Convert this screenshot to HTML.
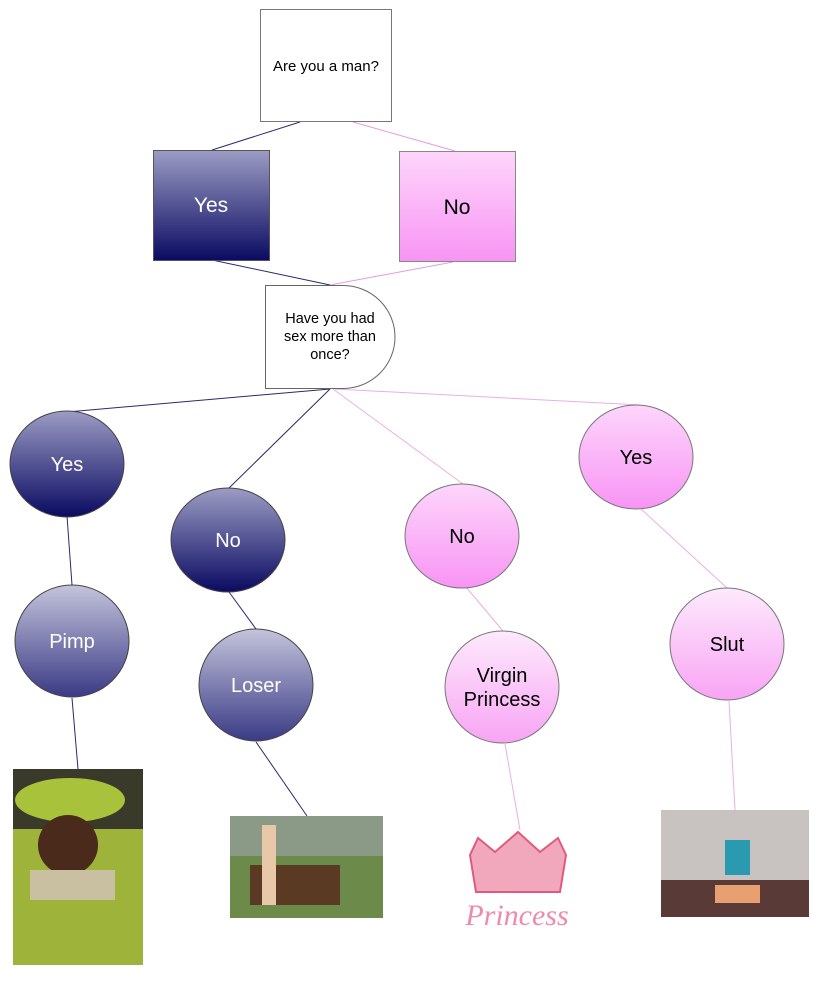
<!DOCTYPE html>
<html><head><meta charset="utf-8"><style>
html,body{margin:0;padding:0;background:#fff;}
svg{display:block;font-family:"Liberation Sans",Arial,sans-serif;}
</style></head><body>
<svg width="833" height="997" viewBox="0 0 833 997" xmlns="http://www.w3.org/2000/svg">
<defs>
<linearGradient id="bd" x1="0" y1="0" x2="0" y2="1"><stop offset="0" stop-color="#9c9cc4"/><stop offset="1" stop-color="#0a0a62"/></linearGradient>
<linearGradient id="bl" x1="0" y1="0" x2="0" y2="1"><stop offset="0" stop-color="#c4c4dc"/><stop offset="1" stop-color="#3a3a86"/></linearGradient>
<linearGradient id="pd" x1="0" y1="0" x2="0" y2="1"><stop offset="0" stop-color="#fdd6fb"/><stop offset="1" stop-color="#f894f4"/></linearGradient>
<linearGradient id="pl" x1="0" y1="0" x2="0" y2="1"><stop offset="0" stop-color="#fdeafc"/><stop offset="1" stop-color="#f8a4f4"/></linearGradient>
</defs>
<g stroke-width="1">
<line x1="300" y1="122" x2="212" y2="150" stroke="#2a2a6a"/>
<line x1="353" y1="122" x2="455" y2="151" stroke="#e59ae0"/>
<line x1="212" y1="260" x2="330" y2="285" stroke="#2a2a6a"/>
<line x1="453" y1="262" x2="330" y2="285" stroke="#e59ae0"/>
<line x1="330" y1="389" x2="67" y2="412" stroke="#2a2a6a"/>
<line x1="330" y1="389" x2="229" y2="488" stroke="#2a2a6a"/>
<line x1="333" y1="389" x2="463" y2="484" stroke="#e8b0e4"/>
<line x1="335" y1="389" x2="640" y2="405" stroke="#e8b0e4"/>
<line x1="67" y1="516" x2="72" y2="585" stroke="#2a2a6a"/>
<line x1="229" y1="592" x2="256" y2="629" stroke="#2a2a6a"/>
<line x1="466" y1="587" x2="503" y2="631" stroke="#e8b0e4"/>
<line x1="641" y1="509" x2="727" y2="588" stroke="#e8b0e4"/>
<line x1="72" y1="698" x2="78" y2="769" stroke="#2a2a6a"/>
<line x1="256" y1="742" x2="307" y2="816" stroke="#2a2a6a"/>
<line x1="505" y1="744" x2="520" y2="830" stroke="#e8b0e4"/>
<line x1="729" y1="701" x2="735" y2="810" stroke="#e8b0e4"/>
</g>
<rect x="260.5" y="9.5" width="131" height="112" fill="#fff" stroke="#777"/>
<text x="326" y="71" font-size="15" text-anchor="middle" fill="#000">Are you a man?</text>
<rect x="153.5" y="150.5" width="116" height="110" fill="url(#bd)" stroke="#555"/>
<text x="211" y="212" font-size="21" text-anchor="middle" fill="#fff">Yes</text>
<rect x="399.5" y="151.5" width="116" height="110" fill="url(#pd)" stroke="#888"/>
<text x="457" y="214" font-size="21" text-anchor="middle" fill="#000">No</text>
<path d="M265.5,285.5 H343 A52,51.5 0 0 1 343,388.5 H265.5 Z" fill="#fff" stroke="#666"/>
<text font-size="14.5" text-anchor="middle" fill="#000"><tspan x="330" y="323">Have you had</tspan><tspan x="330" y="341">sex more than</tspan><tspan x="330" y="359">once?</tspan></text>
<ellipse cx="67" cy="464" rx="57" ry="53" fill="url(#bd)" stroke="#444"/>
<text x="67" y="471" font-size="20" text-anchor="middle" fill="#fff">Yes</text>
<ellipse cx="228" cy="540" rx="57" ry="52" fill="url(#bd)" stroke="#444"/>
<text x="228" y="547" font-size="20" text-anchor="middle" fill="#fff">No</text>
<ellipse cx="462" cy="536" rx="57" ry="52" fill="url(#pd)" stroke="#777"/>
<text x="462" y="543" font-size="20" text-anchor="middle" fill="#000">No</text>
<ellipse cx="636" cy="457" rx="57" ry="52" fill="url(#pd)" stroke="#777"/>
<text x="636" y="464" font-size="20" text-anchor="middle" fill="#000">Yes</text>
<ellipse cx="72" cy="641" rx="57" ry="56" fill="url(#bl)" stroke="#444"/>
<text x="72" y="648" font-size="20" text-anchor="middle" fill="#fff">Pimp</text>
<ellipse cx="256" cy="685" rx="57" ry="56" fill="url(#bl)" stroke="#444"/>
<text x="256" y="692" font-size="20" text-anchor="middle" fill="#fff">Loser</text>
<ellipse cx="502" cy="687" rx="57" ry="56" fill="url(#pl)" stroke="#777"/>
<text font-size="20" text-anchor="middle" fill="#000"><tspan x="502" y="682">Virgin</tspan><tspan x="502" y="706">Princess</tspan></text>
<ellipse cx="727" cy="644" rx="57" ry="56" fill="url(#pl)" stroke="#777"/>
<text x="727" y="651" font-size="20" text-anchor="middle" fill="#000">Slut</text>
<!-- images approximations -->
<rect x="13" y="769" width="130" height="196" fill="#9db33a"/>
<rect x="13" y="769" width="130" height="60" fill="#3a3a2a"/>
<ellipse cx="70" cy="800" rx="55" ry="22" fill="#a9c23c"/>
<ellipse cx="68" cy="845" rx="30" ry="30" fill="#4a2a1a"/>
<rect x="30" y="870" width="85" height="30" fill="#c8c0a0"/>
<rect x="230" y="816" width="153" height="102" fill="#6c8a4a"/>
<rect x="230" y="816" width="153" height="40" fill="#8a9a86"/>
<rect x="250" y="865" width="90" height="40" fill="#5a3a22"/>
<rect x="262" y="825" width="14" height="80" fill="#e8c8a8"/>
<path d="M470,855 L478,838 L495,852 L518,832 L540,852 L558,838 L566,855 L560,892 L476,892 Z" fill="#f2a8bc" stroke="#e05a80" stroke-width="2"/>
<text x="517" y="925" font-size="30" font-style="italic" text-anchor="middle" fill="#f08aa8" font-family="Liberation Serif,serif">Princess</text>
<rect x="661" y="810" width="148" height="107" fill="#c8c2c0"/>
<rect x="661" y="880" width="148" height="37" fill="#5a3a36"/>
<rect x="725" y="840" width="25" height="35" fill="#2a9ab0"/>
<rect x="715" y="885" width="45" height="18" fill="#e8a070"/>
</svg>
</body></html>
